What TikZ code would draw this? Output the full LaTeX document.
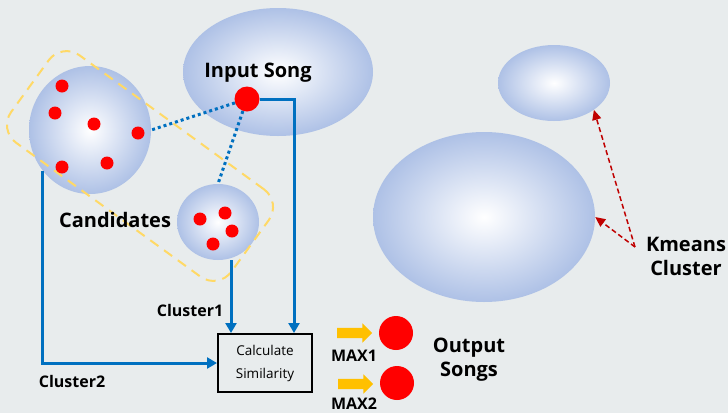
\documentclass[tikz,border=0pt]{standalone}
\usepackage{fontspec}
\setmainfont{Open Sans}
\usetikzlibrary{arrows.meta,shapes.geometric,shapes.arrows,positioning}
\definecolor{bgcol}{HTML}{E8ECED}
\definecolor{flowblue}{HTML}{0070C0}
\definecolor{clusteredge}{HTML}{AEC1E6}
\definecolor{gold}{HTML}{FFC000}
\definecolor{dashgold}{HTML}{FFD966}
\definecolor{kred}{HTML}{C00000}
\tikzset{
  cluster/.style={ellipse,inner color=white,outer color=clusteredge,
                  inner sep=0pt},
  song/.style={circle,fill=red,inner sep=0pt,minimum size=13pt},
  flow/.style={-{Triangle[length=10pt,width=11pt]},line width=3pt,flowblue},
  link/.style={line width=3pt,flowblue,dash pattern=on 3pt off 3pt},
  kmarrow/.style={-{Triangle[length=10pt,width=9pt]},line width=1.5pt,kred,
                  dash pattern=on 5pt off 3pt},
  simbox/.style={rectangle,draw=black,line width=2pt,fill=bgcol,
                 minimum width=94pt,minimum height=58pt,align=center,
                 font=\fontsize{13.5}{23}\selectfont},
  goldarrow/.style={single arrow,fill=gold,inner xsep=0pt,inner ysep=5pt,
                    minimum height=35pt,
                    single arrow head extend=4.5pt},
  lbl/.style={font=\bfseries\fontsize{20}{23.5}\selectfont},
  small lbl/.style={font=\bfseries\fontsize{16}{19}\selectfont},
}

\begin{document}
\begin{tikzpicture}[x=1pt,y=-1pt]
    \fill[bgcol] (0,0) rectangle (728,413);
    \useasboundingbox (0,0) rectangle (728,413);

    % clusters
    \node[cluster,minimum width=190pt,minimum height=128pt] (inputc) at (278,72) {};
    \node[cluster,minimum width=122pt,minimum height=128pt] (bigc) at (90,130) {};
    \node[cluster,minimum width=82pt,minimum height=76pt] (smallc) at (218,222) {};
    \node[cluster,minimum width=112pt,minimum height=76pt] (kmsmall) at (554,83) {};
    \node[cluster,minimum width=222pt,minimum height=170pt] (kmbig) at (484,217) {};

    \node[draw=dashgold,line width=2pt,dash pattern=on 10pt off 7pt,
          rounded corners=22pt,rotate=-36,minimum width=272pt,
          minimum height=108pt] (cand) at (140,166) {};

    \foreach \x/\y [count=\i] in {62/86,55/113,94/124,138/133,62/167,107/163}{
      \node[song] (bd\i) at (\x,\y) {};
    }
    \foreach \x/\y [count=\i] in {200/219,225/213,232/231,213/244}{
      \node[song] (sd\i) at (\x,\y) {};
    }
    \node[song,minimum size=25pt] (inputdot) at (247,99) {};

    \draw[link] (inputdot) -- (bigc.east);
    \draw[link] (inputdot) -- (smallc.north);

    \node[simbox] (sim) at (265,363) {Calculate\\Similarity};

    \draw[flow] (inputdot.east) -| ([xshift=-19pt]sim.north east);
    \draw[flow] ([xshift=13pt]smallc.south) -- ([xshift=13pt]smallc.south |- sim.north);
    \draw[flow] (bigc.-139) |- (sim.west);

    % labels
    \node[lbl,anchor=base] (insong) at (258,77) {Input Song};
    \node[lbl,anchor=base] (candlbl) at (115,227) {Candidates};
    \node[small lbl,anchor=base] (c1lbl) at (190,316) {Cluster1};
    \node[small lbl,anchor=base] (c2lbl) at (72,387) {Cluster2};

    % output
    \node[goldarrow] (ar1) at (352,333) {};
    \node[goldarrow] (ar2) at (353,384) {};
    \node[song,minimum size=34pt] (out1) at (396,333) {};
    \node[song,minimum size=34pt] (out2) at (397,383) {};
    \node[small lbl,anchor=base] (max1) at (354,361) {MAX1};
    \node[small lbl,anchor=base] (max2) at (354,409) {MAX2};
    \node[lbl,align=center,anchor=base] (outlbl) at (469,376) {Output\\Songs};

    % kmeans
    \node[lbl,align=center,anchor=base] (kmlbl) at (686,275) {Kmeans\\Cluster};
    \coordinate (kmtip) at (635,247);
    \draw[kmarrow] (kmtip) -- (kmsmall.-34);
    \draw[kmarrow] (kmtip) -- (kmbig.east);
\end{tikzpicture}
\end{document}
